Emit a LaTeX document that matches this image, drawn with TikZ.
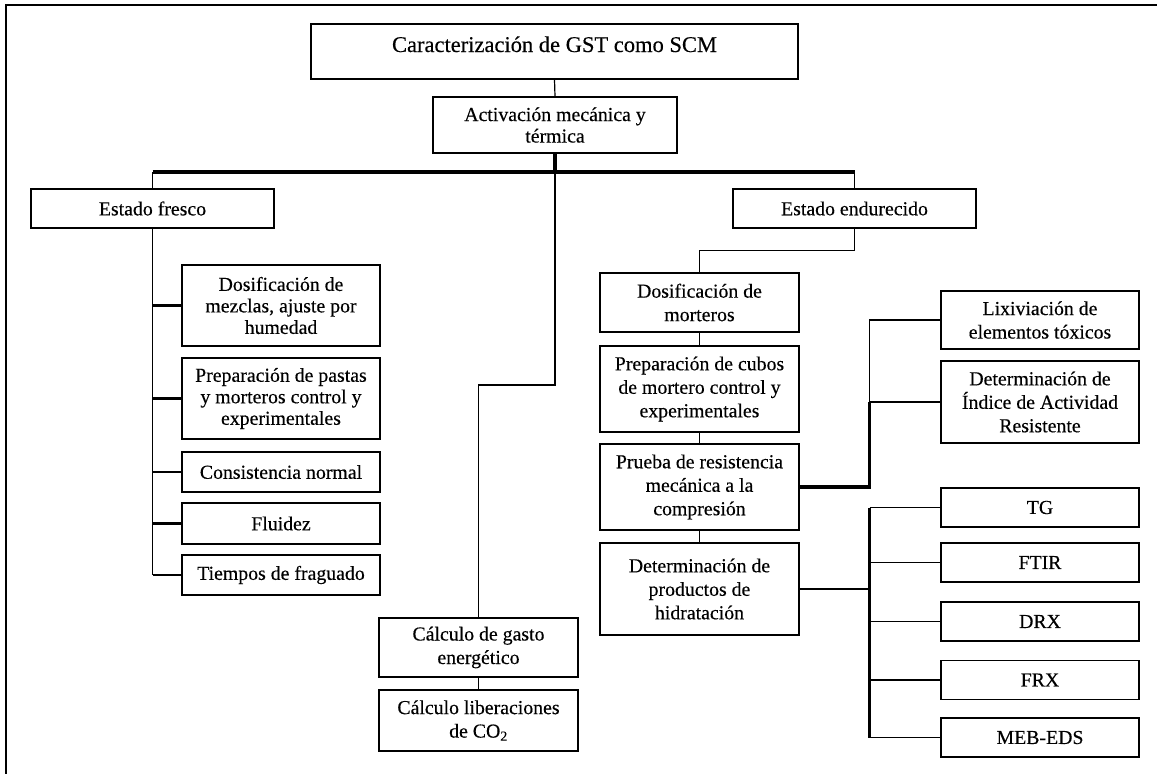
\documentclass[tikz,border=0pt]{standalone}
\usepackage{fontspec}
\setmainfont{Liberation Serif}[FakeBold=0.3]
\begin{document}
\begin{tikzpicture}[x=1pt,y=-1pt,
  box/.style={draw, line width=1.3pt, rectangle, align=center, inner sep=0pt,
    font=\fontsize{19.8}{23.5}\selectfont},
  leftbox/.style={box, font=\fontsize{19.8}{21.5}\selectfont,
    minimum width=198pt},
  midbox/.style={box, minimum width=199pt},
  rightbox/.style={box, minimum width=198pt},
  testbox/.style={rightbox, minimum height=39pt},
  thinline/.style={line width=1.2pt},
  barline/.style={line width=3.2pt},
  branch/.style={line width=2.6pt}]

% canvas and outer frame
\useasboundingbox[fill=white] (0,0) rectangle (1157,774);
\draw[line width=1.5pt] (6,774) -- (6,5) -- (1157,5);

% top of the tree
\node[box, minimum width=487pt, minimum height=55pt,
      font=\fontsize{22.5}{26}\selectfont, text height=15pt, text depth=14pt]
  (title) at (554.5,51.5) {Caracterización de GST como SCM};
\node[box, minimum width=244pt, minimum height=56pt,
      font=\fontsize{19.8}{21.5}\selectfont]
  (act) at (555,125) {Activación mecánica y\\térmica};
\node[box, minimum width=243pt, minimum height=39pt] (fresco) at (152.5,208.5) {Estado fresco};
\node[box, minimum width=243pt, minimum height=39pt] (endur) at (854.5,208.5) {Estado endurecido};
\coordinate (hub) at (555,172);

% fresh state branch
\node[leftbox, minimum height=81pt] (dosmez) at (281,305.5) {Dosificación de\\mezclas, ajuste por\\humedad};
\node[leftbox, minimum height=81pt] (prep) at (281,398.5) {Preparación de pastas\\y morteros control y\\experimentales};
\node[leftbox, minimum height=40pt] (cons) at (281,472) {Consistencia normal};
\node[leftbox, minimum height=41pt] (flu) at (281,523.5) {Fluidez};
\node[leftbox, minimum height=40pt] (tiem) at (281,575) {Tiempos de fraguado};

% energy and emissions
\node[midbox, minimum height=59pt] (gasto) at (478.5,647.5) {Cálculo de gasto\\energético};
\node[midbox, minimum height=61pt] (co2) at (478.5,720.5) {Cálculo liberaciones\\de CO\textsubscript{2}};
\coordinate (jog) at (555,385);

% hardened state branch
\node[midbox, minimum height=59pt] (mort) at (699.5,302.5) {Dosificación de\\morteros};
\node[midbox, minimum height=86pt] (cubos) at (699.5,389) {Preparación de cubos\\de mortero control y\\experimentales};
\node[midbox, minimum height=86pt] (prueba) at (699.5,487) {Prueba de resistencia\\mecánica a la\\compresión};
\node[midbox, minimum height=92pt] (prod) at (699.5,589) {Determinación de\\productos de\\hidratación};

% right-hand analyses
\node[rightbox, minimum height=58pt] (lix) at (1040,320) {Lixiviación de\\elementos tóxicos};
\node[rightbox, minimum height=82pt] (iar) at (1040,402) {Determinación de\\Índice de Actividad\\Resistente};
\node[testbox] (tg) at (1040,507.5) {TG};
\node[testbox] (ftir) at (1040,562.5) {FTIR};
\node[testbox] (drx) at (1040,621.5) {DRX};
\node[testbox] (frx) at (1040,680) {FRX};
\node[testbox] (meb) at (1040,737.5) {MEB-EDS};
\coordinate (jr) at (869.5,0);

% connectors: top levels
\draw[thinline] (title.south) -- (act.north);
\draw[barline] (act.south) -- (hub);
\draw[barline] (fresco.north |- hub) -- (endur.north |- hub);
\draw[thinline] (fresco.north |- hub) -- (fresco.north);
\draw[thinline] (endur.north |- hub) -- (endur.north);

% connectors: fresh state
\draw[thinline] (fresco.south) -- (fresco.south |- tiem.west);
\foreach \n in {dosmez,prep,cons,flu,tiem}
  \draw[branch] (fresco.south |- \n.west) -- (\n.west);

% connectors: energy
\draw[thinline] (hub) -- (jog) -| (gasto.north);
\draw[thinline] (gasto.south) -- (co2.north);

% connectors: hardened state
\draw[thinline] (endur.south) -- ++(0,22) -| (mort.north);
\draw[thinline] (mort.south) -- (cubos.north);
\draw[thinline] (cubos.south) -- (prueba.north);
\draw[thinline] (prueba.south) -- (prod.north);

% connectors: leaching and activity index
\draw[barline] (prueba.east) -| (jr |- iar.west);
\draw[thinline] (jr |- iar.west) -- (jr |- lix.west) -- (lix.west);
\draw[thinline] (jr |- iar.west) -- (iar.west);

% connectors: hydration products
\draw[thinline] (prod.east) -- (jr |- prod.east);
\draw[barline] (jr |- tg.west) -- (jr |- meb.west);
\foreach \n in {tg,ftir,drx,meb}
  \draw[thinline] (jr |- \n.west) -- (\n.west);
\draw[branch] (jr |- frx.west) -- (frx.west);
\end{tikzpicture}
\end{document}
